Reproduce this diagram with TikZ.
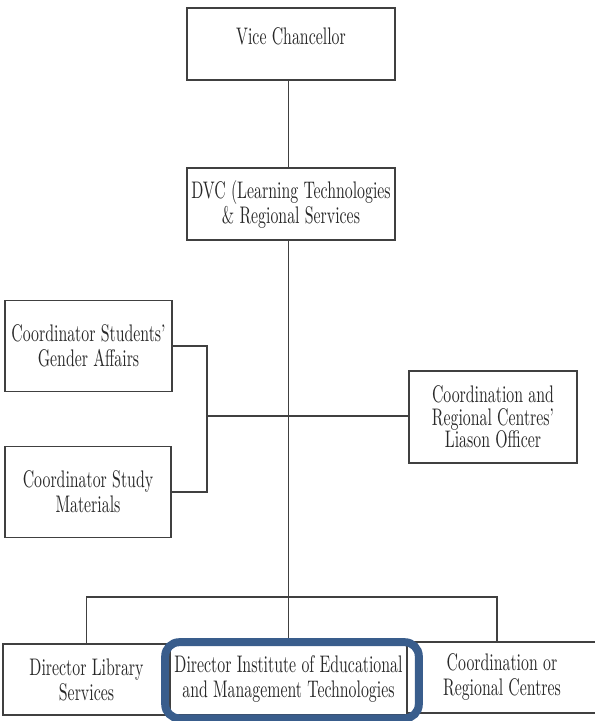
\documentclass[tikz,border=0pt]{standalone}
\usepackage{fontspec}
\newfontfamily\orgfont[FakeStretch=0.66]{lmroman10-regular.otf}
\definecolor{linegray}{RGB}{64,64,64}
\definecolor{textgray}{RGB}{40,40,40}
\definecolor{frameblue}{RGB}{57,93,140}
\tikzset{
  orgbox/.style={draw=linegray, line width=1.6pt, fill=white, align=center,
    inner sep=0pt, text=textgray, font=\orgfont\fontsize{24}{25}\selectfont},
  link/.style={draw=linegray, line width=1.2pt},
}
\begin{document}
\begin{tikzpicture}[x=1pt, y=-1pt]
    \useasboundingbox (0,0) rectangle (595,721);

    % head of the chart
    \node[orgbox, minimum width=208pt, minimum height=72pt, text depth=15pt] (vc) at (291,44) {Vice Chancellor};
    \node[orgbox, minimum width=208pt, minimum height=72pt] (dvc) at (291,204) {DVC (Learning Technologies\\\& Regional Services};

    % middle level
    \node[orgbox, minimum width=167pt, minimum height=91pt] (gender) at (88.5,346) {Coordinator Students’\\Gender Affairs};
    \node[orgbox, minimum width=166pt, minimum height=91pt] (study) at (88,492) {Coordinator Study\\Materials};
    \node[orgbox, minimum width=168pt, minimum height=92pt, font=\orgfont\fontsize{24}{22.5}\selectfont] (liaison) at (493,417) {Coordination and\\Regional Centres’\\Liason Officer};

    % bottom row
    \node[orgbox, minimum width=167pt, minimum height=71pt] (library) at (86.5,679.5) {Director Library\\Services};
    \node[orgbox, minimum width=237pt, minimum height=71pt] (inst) at (288.5,679.5) {Director Institute of Educational\\and Management Technologies};
    \node[orgbox, minimum width=190pt, minimum height=71pt] (coord) at (502,677.5) {Coordination or\\Regional Centres};

    \coordinate (brk) at (207,416);
    \coordinate (bus) at (288.5,597);

    \draw[link] (vc.south -| inst.north) -- (dvc.north -| inst.north);
    \draw[link] (dvc.south -| inst.north) -- (inst.north);
    \draw[link] (gender.east) -| (brk) |- (study.east);
    \draw[link] (brk) -- (brk -| liaison.west);
    \draw[link] (library.north) |- (bus) -| ([xshift=-5pt]coord.north);

    % highlight round the institute
    \draw[frameblue, line width=8pt, rounded corners=14pt]
        ([shift={(-4,-1)}]inst.north west) rectangle ([shift={(11,2.5)}]inst.south east);
\end{tikzpicture}
\end{document}
